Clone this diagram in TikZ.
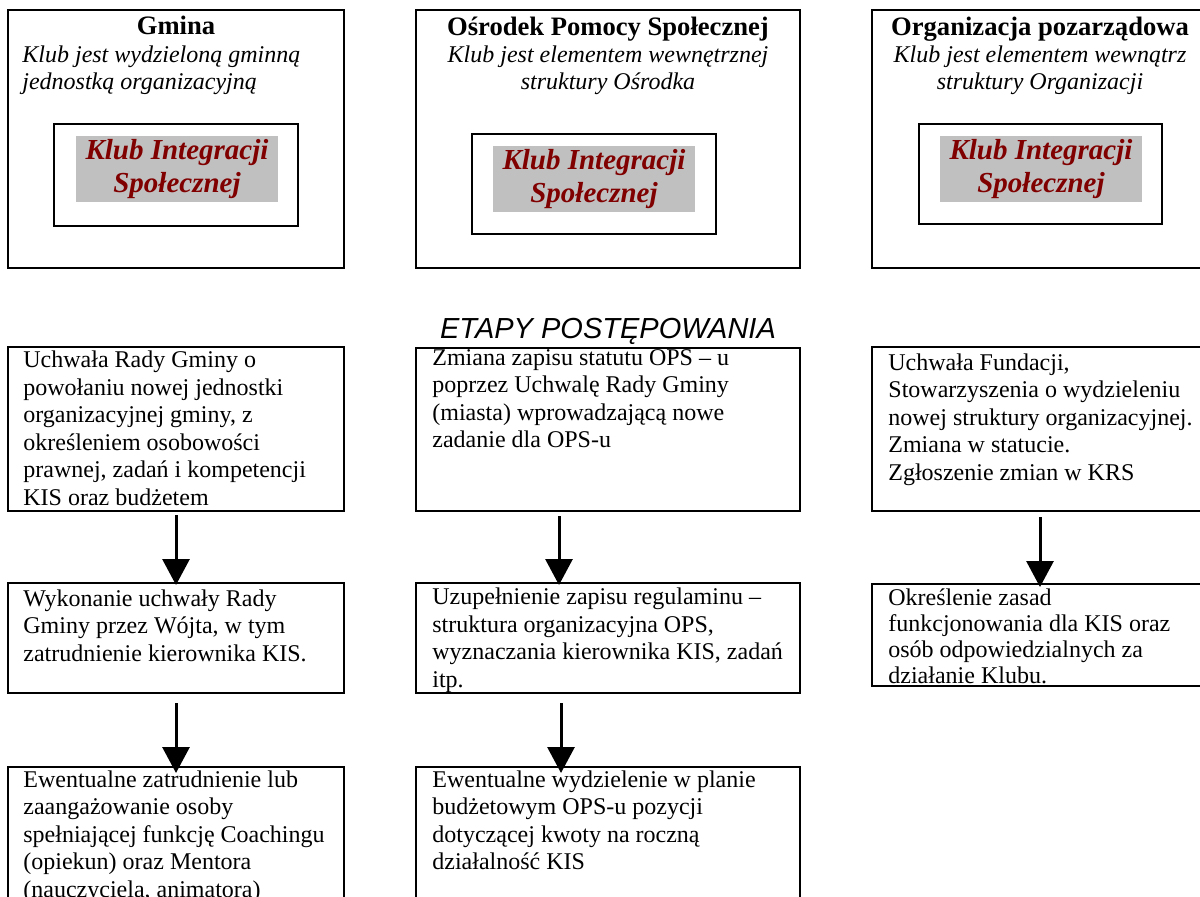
\documentclass[tikz,border=0pt]{standalone}
\usepackage{fontspec}
\setmainfont{Liberation Serif}
\newfontfamily\etapfont{Liberation Sans}
\usetikzlibrary{arrows.meta}
\definecolor{kisred}{HTML}{800000}
\definecolor{kisgray}{HTML}{C0C0C0}
\tikzset{
  boxnode/.style={draw, line width=0.8pt, inner sep=0pt, outer sep=0pt, anchor=north west},
  graynode/.style={fill=kisgray, inner sep=0pt, outer sep=0pt, anchor=north west,
    minimum width=101pt, minimum height=33pt, align=center, text=kisred,
    font=\fontsize{14.5}{16.3}\selectfont\bfseries\itshape},
  steptext/.style={anchor=base west, inner sep=0pt, align=left, font=\fontsize{12}{13.75}\selectfont},
  titletext/.style={anchor=base, inner sep=0pt, font=\fontsize{13.3}{15}\selectfont\bfseries},
  subtext/.style={inner sep=0pt, font=\fontsize{12}{13.5}\selectfont\itshape},
  arr/.style={line width=1.5pt, -{Triangle[width=13.5pt,length=13pt]}},
}
\begin{document}
\begin{tikzpicture}[x=0.5pt, y=-0.5pt]
\useasboundingbox (0,0) rectangle (1200,896);
\clip (0,0) rectangle (1200,896);

% ---- top boxes ----
\node[boxnode, minimum width=168pt, minimum height=129pt] (t1) at (8,10) {};
\node[boxnode, minimum width=192pt, minimum height=129pt] (t2) at (416,10) {};
\node[boxnode, minimum width=168pt, minimum height=129pt] (t3) at (872,10) {};

\node[titletext] (t1title) at (176,34) {Gmina};
\node[titletext] (t2title) at (608,35) {Ośrodek Pomocy Społecznej};
\node[titletext] (t3title) at (1040,35) {Organizacja pozarządowa};

% multi-line nodes: the base anchor lies on the LAST line's baseline
\node[subtext, anchor=base west, align=left] (t1sub) at (22,89) {Klub jest wydzieloną gminną\\jednostką organizacyjną};
\node[subtext, anchor=base, align=center] (t2sub) at (608,89) {Klub jest elementem wewnętrznej\\struktury Ośrodka};
\node[subtext, anchor=base, align=center] (t3sub) at (1040,89) {Klub jest elementem wewnątrz\\struktury Organizacji};

\node[boxnode, minimum width=122pt, minimum height=51pt] (i1) at (54,124) {};
\node[boxnode, minimum width=122pt, minimum height=50pt] (i2) at (472,134) {};
\node[boxnode, minimum width=121.5pt, minimum height=50pt] (i3) at (919,124) {};

\node[graynode] (g1) at (76,136) {Klub Integracji\\Społecznej};
\node[graynode] (g2) at (493,146) {Klub Integracji\\Społecznej};
\node[graynode] (g3) at (940,136) {Klub Integracji\\Społecznej};

% ---- heading ----
\node[anchor=base, inner sep=0pt, font=\etapfont\itshape\fontsize{14.5}{16}\selectfont] (etapy) at (608,338) {ETAPY POSTĘPOWANIA};

% ---- step boxes ----
\node[boxnode, minimum width=168pt, minimum height=82pt] (b11) at (8,347) {};
\node[boxnode, minimum width=192pt, minimum height=81.5pt] (b21) at (416,348) {};
\node[boxnode, minimum width=168pt, minimum height=82pt] (b31) at (872,347) {};
\node[boxnode, minimum width=168pt, minimum height=55pt] (b12) at (8,583) {};
\node[boxnode, minimum width=192pt, minimum height=55pt] (b22) at (416,583) {};
\node[boxnode, minimum width=168pt, minimum height=51pt] (b32) at (872,584) {};
\node[boxnode, minimum width=168pt, minimum height=80pt] (b13) at (8,767) {};
\node[boxnode, minimum width=192pt, minimum height=80pt] (b23) at (416,767) {};

\node[steptext] (b11t) at (23,505.2) {Uchwała Rady Gminy o\\powołaniu nowej jednostki\\organizacyjnej gminy, z\\określeniem osobowości\\prawnej, zadań i kompetencji\\KIS oraz budżetem};
\node[steptext] (b21t) at (432,447.5) {Zmiana zapisu statutu OPS – u\\poprzez Uchwalę Rady Gminy\\(miasta) wprowadzającą nowe\\zadanie dla OPS-u};
\node[steptext] (b31t) at (888,480) {Uchwała Fundacji,\\Stowarzyszenia o wydzieleniu\\nowej struktury organizacyjnej.\\Zmiana w statucie.\\Zgłoszenie zmian w KRS};
\node[steptext] (b12t) at (23,661) {Wykonanie uchwały Rady\\Gminy przez Wójta, w tym\\zatrudnienie kierownika KIS.};
\node[steptext] (b22t) at (432,687) {Uzupełnienie zapisu regulaminu –\\struktura organizacyjna OPS,\\wyznaczania kierownika KIS, zadań\\itp.};
\node[steptext, font=\fontsize{12}{13}\selectfont] (b32t) at (888,683) {Określenie zasad\\funkcjonowania dla KIS oraz\\osób odpowiedzialnych za\\działanie Klubu.};
\node[steptext] (b13t) at (23,897) {Ewentualne zatrudnienie lub\\zaangażowanie osoby\\spełniającej funkcję Coachingu\\(opiekun) oraz Mentora\\(nauczyciela, animatora)};
\node[steptext] (b23t) at (432,869.5) {Ewentualne wydzielenie w planie\\budżetowym OPS-u pozycji\\dotyczącej kwoty na roczną\\działalność KIS};

% ---- arrows ----
\draw[arr] ([yshift=-2pt]b11.south) -- ([yshift=-1pt]b12.north);
\draw[arr] ([yshift=-5pt]b12.south) -- ([yshift=-3pt]b13.north);
\draw[arr] ([xshift=-24.5pt,yshift=-2.5pt]b21.south) -- ([xshift=-24.5pt,yshift=-1pt]b22.north);
\draw[arr] ([xshift=-23.5pt,yshift=-5pt]b22.south) -- ([xshift=-23.5pt,yshift=-3pt]b23.north);
\draw[arr] ([yshift=-3pt]b31.south) -- ([yshift=-1.5pt]b32.north);
\end{tikzpicture}
\end{document}
